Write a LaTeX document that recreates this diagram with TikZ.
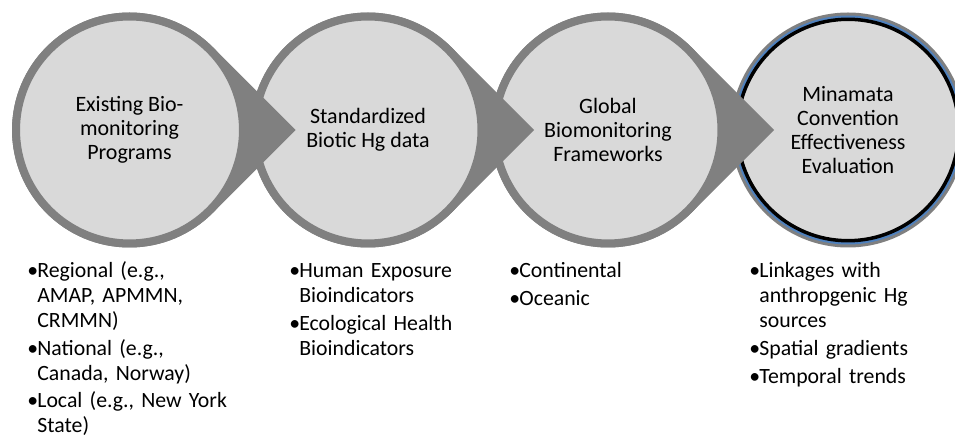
\documentclass[tikz,border=0pt]{standalone}
\usepackage{fontspec}
\setmainfont{Carlito}
\usetikzlibrary{calc}

\definecolor{ringgray}{RGB}{128,128,128}
\definecolor{discgray}{RGB}{217,217,217}
\definecolor{edgeblue}{RGB}{79,129,189}

\newcommand{\bitem}[1]{\hangindent=0.2cm\hangafter=1\noindent\makebox[0.2cm][l]{•}#1\par\vspace{0.06cm}}

\tikzset{
  stage/.style={circle, fill=discgray, draw=ringgray, line width=0.16cm, minimum size=4.54cm,
    inner sep=0pt, align=center, font=\fontsize{12.5}{13.6}\selectfont},
  laststage/.style={stage, draw=black, line width=0.07cm, minimum size=4.43cm},
  bulletlist/.style={anchor=base west, inner sep=0pt, text width=5cm, align=left,
    font=\fontsize{12.4}{14.1}\selectfont},
}

\begin{document}
\begin{tikzpicture}[x=0.02cm, y=0.02cm]
    \useasboundingbox (0,0) rectangle (955,436);
    \clip (0,0) rectangle (955,436);
    % Stage centres
    \coordinate (c1) at (129.5,306);
    \coordinate (c2) at (368,306);
    \coordinate (c3) at (608,306);
    \coordinate (c4) at (848,306);

    % Last stage with its double edge
    \fill[ringgray] (c4) circle (117.5);
    \fill[edgeblue] (c4) circle (114.5);
    \node[laststage] (s4) at (c4) {Minamata\\Convention\\Effectiveness\\Evaluation};

    % Other stages, right to left so each arrow lies on the next circle
    \foreach \i/\txt in {3/{Global\\Biomonitoring\\Frameworks},
                         2/{Standardized\\Biotic Hg data},
                         1/{Existing Bio-\\monitoring\\Programs}} {
        \fill[ringgray] (c\i) circle (117.5);
        \fill[ringgray] ($(c\i)+(45:117.5)$) -- ($(c\i)+(166,0)$) -- ($(c\i)+(-45:117.5)$) -- cycle;
        \node[stage] (s\i) at (c\i) {\txt};
    }

    % Lists under the stages
    \node[bulletlist] (l1) at (27,158) {\bitem{Regional (e.g.,\newline AMAP, APMMN,\newline CRMMN)}%
        \bitem{National (e.g.,\newline Canada, Norway)}%
        \bitem{Local (e.g., New York\newline State)}};
    \node[bulletlist] (l2) at (289,158) {\bitem{Human Exposure\newline Bioindicators}%
        \bitem{Ecological Health\newline Bioindicators}};
    \node[bulletlist] (l3) at (509,158) {\bitem{Continental}\bitem{Oceanic}};
    \node[bulletlist] (l4) at (749,158) {\bitem{Linkages with\newline anthropgenic Hg\newline sources}%
        \bitem{Spatial gradients}%
        \bitem{Temporal trends}};
\end{tikzpicture}
\end{document}
